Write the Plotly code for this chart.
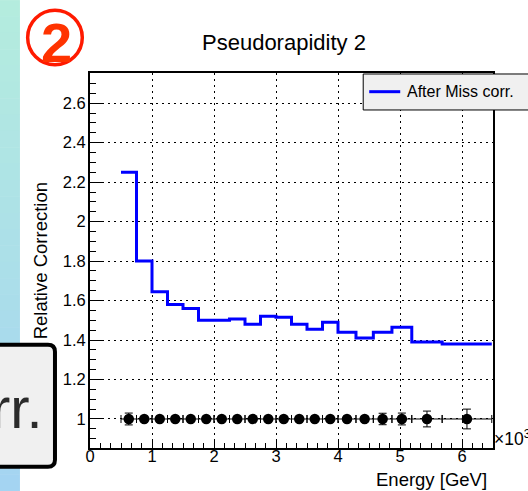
import plotly.graph_objects as go

# ---------------- data (energy in units of 10^3 GeV) ----------------
bin_edges = [0.5, 0.75, 1.0, 1.25, 1.5, 1.75, 2.0, 2.25, 2.5, 2.75, 3.0,
             3.25, 3.5, 3.75, 4.0, 4.29, 4.57, 4.87, 5.19, 5.68, 6.48]
after_miss_corr = [2.25, 1.80, 1.645, 1.58, 1.56, 1.50, 1.50, 1.507, 1.48, 1.52,
                   1.515, 1.48, 1.455, 1.49, 1.44, 1.41, 1.44, 1.465, 1.39, 1.38]
ref_values = [1.0] * 20
ref_errors = [0.03, 0.008, 0.008, 0.008, 0.008, 0.008, 0.008, 0.008, 0.008, 0.008,
              0.008, 0.008, 0.008, 0.008, 0.008, 0.01, 0.029, 0.03, 0.04, 0.05]
x_ticks = [0, 1, 2, 3, 4, 5, 6]
title_text = "Pseudorapidity 2"
legend_label = "After Miss corr."

# ---------------- geometry ----------------
W, H = 528, 491
L, R, T, B = 90, 35.3, 73, 42.7
PW = W - L - R
PH = H - T - B
FONT = "Liberation Sans, Arial, Helvetica, sans-serif"


def pxx(xp):
    return (xp - L) / PW


def pyy(yp):
    return (H - B - yp) / PH


centers = [(a + b) / 2 for a, b in zip(bin_edges[:-1], bin_edges[1:])]
halfw = [(b - a) / 2 for a, b in zip(bin_edges[:-1], bin_edges[1:])]

fig = go.Figure()
fig.add_trace(go.Scatter(
    x=bin_edges, y=after_miss_corr + [after_miss_corr[-1]],
    mode="lines", line=dict(color="#0000ff", width=3, shape="hv"),
    showlegend=False, name=legend_label, hoverinfo="skip"))
fig.add_trace(go.Scatter(
    x=centers, y=ref_values, mode="markers",
    marker=dict(color="black", size=10.5, symbol="circle"),
    error_x=dict(type="data", array=halfw, color="black", thickness=1, width=4),
    error_y=dict(type="data", array=ref_errors, color="black", thickness=1, width=4),
    showlegend=False, hoverinfo="skip"))

axis_common = dict(
    showline=True, linecolor="black", linewidth=2, mirror=True,
    showgrid=True, gridcolor="black", gridwidth=1, griddash="2px,4px",
    zeroline=False, ticks="inside", tickcolor="black",
    tickfont=dict(family=FONT, size=16.5, color="black"),
)
fig.update_xaxes(range=[0, 6.5], tickvals=x_ticks, ticklen=9, tickwidth=1,
                 ticklabelstandoff=-8,
                 minor=dict(dtick=1 / 6, tick0=0, ticks="inside", ticklen=5,
                            tickcolor="black", showgrid=False),
                 **axis_common)
fig.update_yaxes(range=[0.853, 2.753], dtick=0.2, tick0=0, ticklen=12, tickwidth=1,
                 ticklabelstandoff=-1,
                 minor=dict(dtick=0.05, ticks="inside", ticklen=6, tickcolor="black",
                            showgrid=False),
                 **axis_common)

shapes = []
# decorative gradient strip on the left
top_c = (180, 236, 222)
bot_c = (164, 212, 242)
n = 30
for i in range(n):
    t = i / (n - 1)
    c = tuple(int(round(top_c[k] + (bot_c[k] - top_c[k]) * t)) for k in range(3))
    y0 = H * i / n
    y1 = H * (i + 1) / n + 0.5
    shapes.append(dict(type="rect", xref="paper", yref="paper",
                       x0=pxx(-1), x1=pxx(20), y0=pyy(y0), y1=pyy(y1),
                       fillcolor="rgb(%d,%d,%d)" % c, line=dict(width=0), layer="above"))
# rounded box at bottom-left
bx0, bx1, by0, by1, r = -10, 55, 345, 467, 7
path = ("M %f,%f L %f,%f Q %f,%f %f,%f L %f,%f Q %f,%f %f,%f L %f,%f Z" % (
    pxx(bx0), pyy(by0), pxx(bx1 - r), pyy(by0), pxx(bx1), pyy(by0), pxx(bx1), pyy(by0 + r),
    pxx(bx1), pyy(by1 - r), pxx(bx1), pyy(by1), pxx(bx1 - r), pyy(by1), pxx(bx0), pyy(by1)))
shapes.append(dict(type="path", xref="paper", yref="paper", path=path,
                   fillcolor="#f0f0f0", line=dict(color="black", width=4), layer="above"))
# circle around the "2"
cx, cy, cr = 55, 37.5, 27.3
shapes.append(dict(type="circle", xref="paper", yref="paper",
                   x0=pxx(cx - cr), x1=pxx(cx + cr), y0=pyy(cy + cr), y1=pyy(cy - cr),
                   line=dict(color="#ff1a00", width=3.5), layer="above"))
# legend box
shapes.append(dict(type="rect", xref="paper", yref="paper",
                   x0=pxx(363), x1=pxx(540), y0=pyy(110), y1=pyy(74),
                   fillcolor="#f0f0f0", line=dict(color="black", width=1), layer="above"))
shapes.append(dict(type="line", xref="paper", yref="paper",
                   x0=pxx(369), x1=pxx(400), y0=pyy(91.7), y1=pyy(91.7),
                   line=dict(color="#0000ff", width=3), layer="above"))

annotations = [
    dict(text=title_text, xref="paper", yref="paper", x=pxx(284), y=pyy(42),
         xanchor="center", yanchor="middle", showarrow=False,
         font=dict(family=FONT, size=22, color="black")),
    dict(text=legend_label, xref="paper", yref="paper", x=pxx(405), y=pyy(91.7),
         xanchor="left", yanchor="middle", showarrow=False,
         font=dict(family=FONT, size=16, color="black")),
    dict(text="Energy [GeV]", xref="paper", yref="paper", x=pxx(489), y=pyy(480),
         xanchor="right", yanchor="middle", showarrow=False,
         font=dict(family=FONT, size=18.5, color="black")),
    dict(text="Relative Correction", xref="paper", yref="paper", x=pxx(40), y=pyy(260.5),
         xanchor="center", yanchor="middle", textangle=-90, showarrow=False,
         font=dict(family=FONT, size=18.5, color="black")),
    dict(text="×10<sup>3</sup>", xref="paper", yref="paper", x=pxx(492), y=pyy(438),
         xanchor="left", yanchor="middle", showarrow=False,
         font=dict(family=FONT, size=17.5, color="black")),
    dict(text="rr.", xref="paper", yref="paper", x=pxx(45), y=pyy(408),
         xanchor="right", yanchor="middle", showarrow=False,
         font=dict(family=FONT, size=58, color="#2b2b2b")),
    dict(text="<b>2</b>", xref="paper", yref="paper", x=pxx(57), y=pyy(42),
         xanchor="center", yanchor="middle", showarrow=False,
         font=dict(family=FONT, size=56, color="#ff3300")),
]

fig.update_layout(
    width=W, height=H, margin=dict(l=L, r=R, t=T, b=B, pad=0),
    paper_bgcolor="white", plot_bgcolor="white",
    shapes=shapes, annotations=annotations, showlegend=False,
)

fig.write_html("out.html")
